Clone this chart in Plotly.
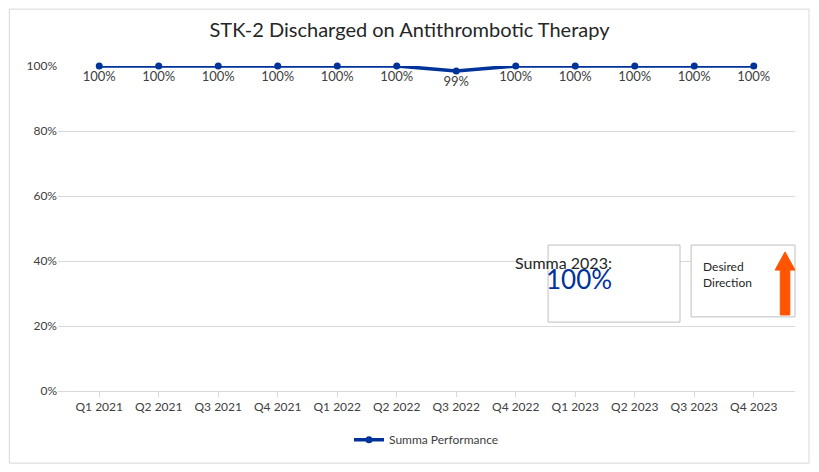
import plotly.graph_objects as go

quarters = ["Q1 2021","Q2 2021","Q3 2021","Q4 2021","Q1 2022","Q2 2022",
            "Q3 2022","Q4 2022","Q1 2023","Q2 2023","Q3 2023","Q4 2023"]
performance = [100,100,100,100,100,100,98.5,100,100,100,100,100]
labels = ["100%"]*6 + ["99%"] + ["100%"]*5
ytick_vals = [0,20,40,60,80,100]
ytick_text = ["0%","20%","40%","60%","80%","100%"]

fig = go.Figure()
fig.add_trace(go.Scatter(x=quarters, y=performance, mode="lines+markers+text",
    name="Summa Performance", text=labels, textposition="bottom center",
    textfont=dict(size=13, color="#404040"), cliponaxis=False,
    line=dict(color="#003399", width=3.5), marker=dict(size=7, color="#003399")))

fig.update_layout(
    autosize=False, width=803, height=456, paper_bgcolor="white", plot_bgcolor="white",
    margin=dict(l=50, r=16, t=58, b=73, autoexpand=False),
    font=dict(family="Lato, Liberation Sans", color="#404040"),
    title=dict(text="STK-2 Discharged on Antithrombotic Therapy", x=0.5, y=0.952,
               xanchor="center", yanchor="middle", font=dict(size=20, color="#262626")),
    xaxis=dict(showgrid=False, showline=True, linecolor="#d9d9d9", ticks="outside",
               tickcolor="#d9d9d9", ticklen=5, tickfont=dict(size=12), automargin=False),
    yaxis=dict(range=[0,100], tickvals=ytick_vals, ticktext=ytick_text, automargin=False,
               gridcolor="#d9d9d9", zeroline=False, tickfont=dict(size=12)),
    showlegend=True,
    legend=dict(orientation="h", x=0.5, xanchor="center", y=-0.15, yanchor="middle",
                font=dict(size=12)),
    shapes=[
        dict(type="rect", xref="paper", yref="paper", x0=0.665, x1=0.844, y0=0.212, y1=0.449,
             line=dict(color="#bfbfbf", width=1), fillcolor="white", layer="above"),
        dict(type="rect", xref="paper", yref="paper", x0=0.859, x1=1.0, y0=0.228, y1=0.449,
             line=dict(color="#bfbfbf", width=1), fillcolor="white", layer="above"),
        dict(type="path", xref="paper", yref="paper",
             path="M 0.980 0.234 L 0.993 0.234 L 0.993 0.372 L 1.0 0.372 L 0.9865 0.428 L 0.973 0.372 L 0.980 0.372 Z",
             fillcolor="#ff5500", line=dict(color="#ff5500", width=1), layer="above"),
        dict(type="rect", xref="paper", yref="paper", x0=-0.066, x1=1.019, y0=-0.222, y1=1.175,
             line=dict(color="#d9d9d9", width=1)),
    ],
    annotations=[
        dict(xref="paper", yref="paper", x=0.7545, y=0.395, text="Summa 2023:",
             showarrow=False, font=dict(size=16, color="#262626")),
        dict(xref="paper", yref="paper", x=0.7545, y=0.29, text="100%",
             showarrow=False, font=dict(size=26, color="#003399")),
        dict(xref="paper", yref="paper", x=0.872, y=0.36, text="Desired<br>Direction",
             showarrow=False, align="left", xanchor="left", font=dict(size=12, color="#262626")),
    ],
)
fig.write_html("out.html")
